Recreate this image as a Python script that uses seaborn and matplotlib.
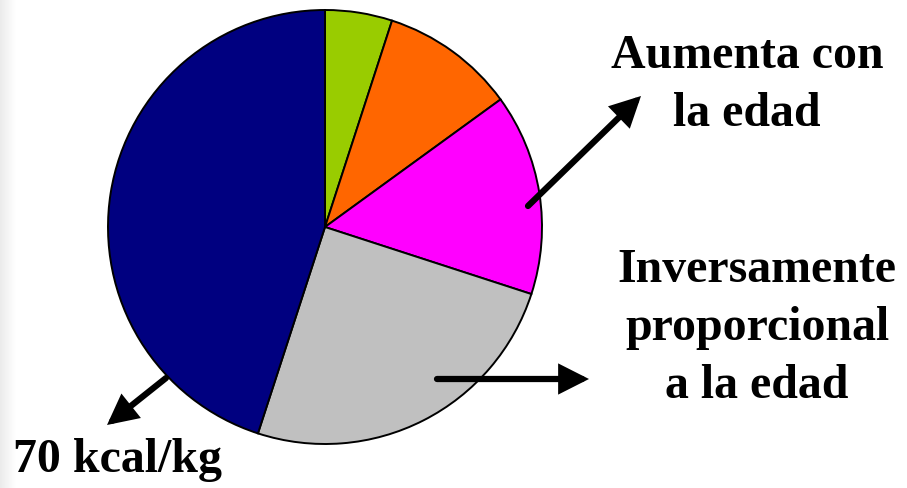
import numpy as np
import matplotlib
matplotlib.use("Agg")
import matplotlib.pyplot as plt
import seaborn as sns

# Energy expenditure components (share of the total)
components = ["Crecimiento", "Actividad", "Termogénesis", "Mantenimiento", "Basal"]
shares = [5, 10, 15, 25, 45]
colors = ["#99CC00", "#FF6600", "#FF00FF", "#C0C0C0", "#000080"]

label_age_up = "Aumenta con\nla edad"
label_age_down = "Inversamente\nproporcional\na la edad"
label_basal = "70 kcal/kg"

sns.set_theme(style="white")
plt.rcParams["font.family"] = ["Liberation Serif", "DejaVu Serif"]

W, H = 907, 488
fig = plt.figure(figsize=(W / 100, H / 100), dpi=100)
ax = fig.add_axes([0, 0, 1, 1])
ax.set_xlim(0, W)
ax.set_ylim(0, H)
ax.set_aspect("equal")
ax.axis("off")

# faint shaded strip along the left edge
grad = np.linspace(0.92, 1.0, 64).reshape(1, -1)
ax.imshow(grad, cmap="gray", vmin=0, vmax=1, extent=[0, 16, 0, H],
          aspect="auto", zorder=0)

ax.pie(shares, colors=colors, startangle=90, counterclock=False,
       center=(325, H - 227), radius=217,
       wedgeprops=dict(edgecolor="black", linewidth=1.4))
ax.set_xlim(0, W)
ax.set_ylim(0, H)

arrow_kw = dict(arrowstyle="-|>,head_length=0.75,head_width=0.38",
                mutation_scale=20, color="black", lw=4.5,
                shrinkA=0, shrinkB=0, joinstyle="miter")
ax.annotate("", xy=(641, H - 96), xytext=(528, H - 206), arrowprops=arrow_kw)
ax.annotate("", xy=(589, H - 379), xytext=(437, H - 379), arrowprops=arrow_kw)
ax.annotate("", xy=(107, H - 425), xytext=(166, H - 378), arrowprops=arrow_kw)

txt = dict(fontsize=34.5, fontweight="bold", color="black", linespacing=1.42)
ax.text(747, H - 85, label_age_up, ha="center", va="center", **txt)
ax.text(757, H - 328, label_age_down, ha="center", va="center", **txt)
ax.text(13, H - 460, label_basal, ha="left", va="center", **txt)

fig.savefig("out.png", dpi=100)
